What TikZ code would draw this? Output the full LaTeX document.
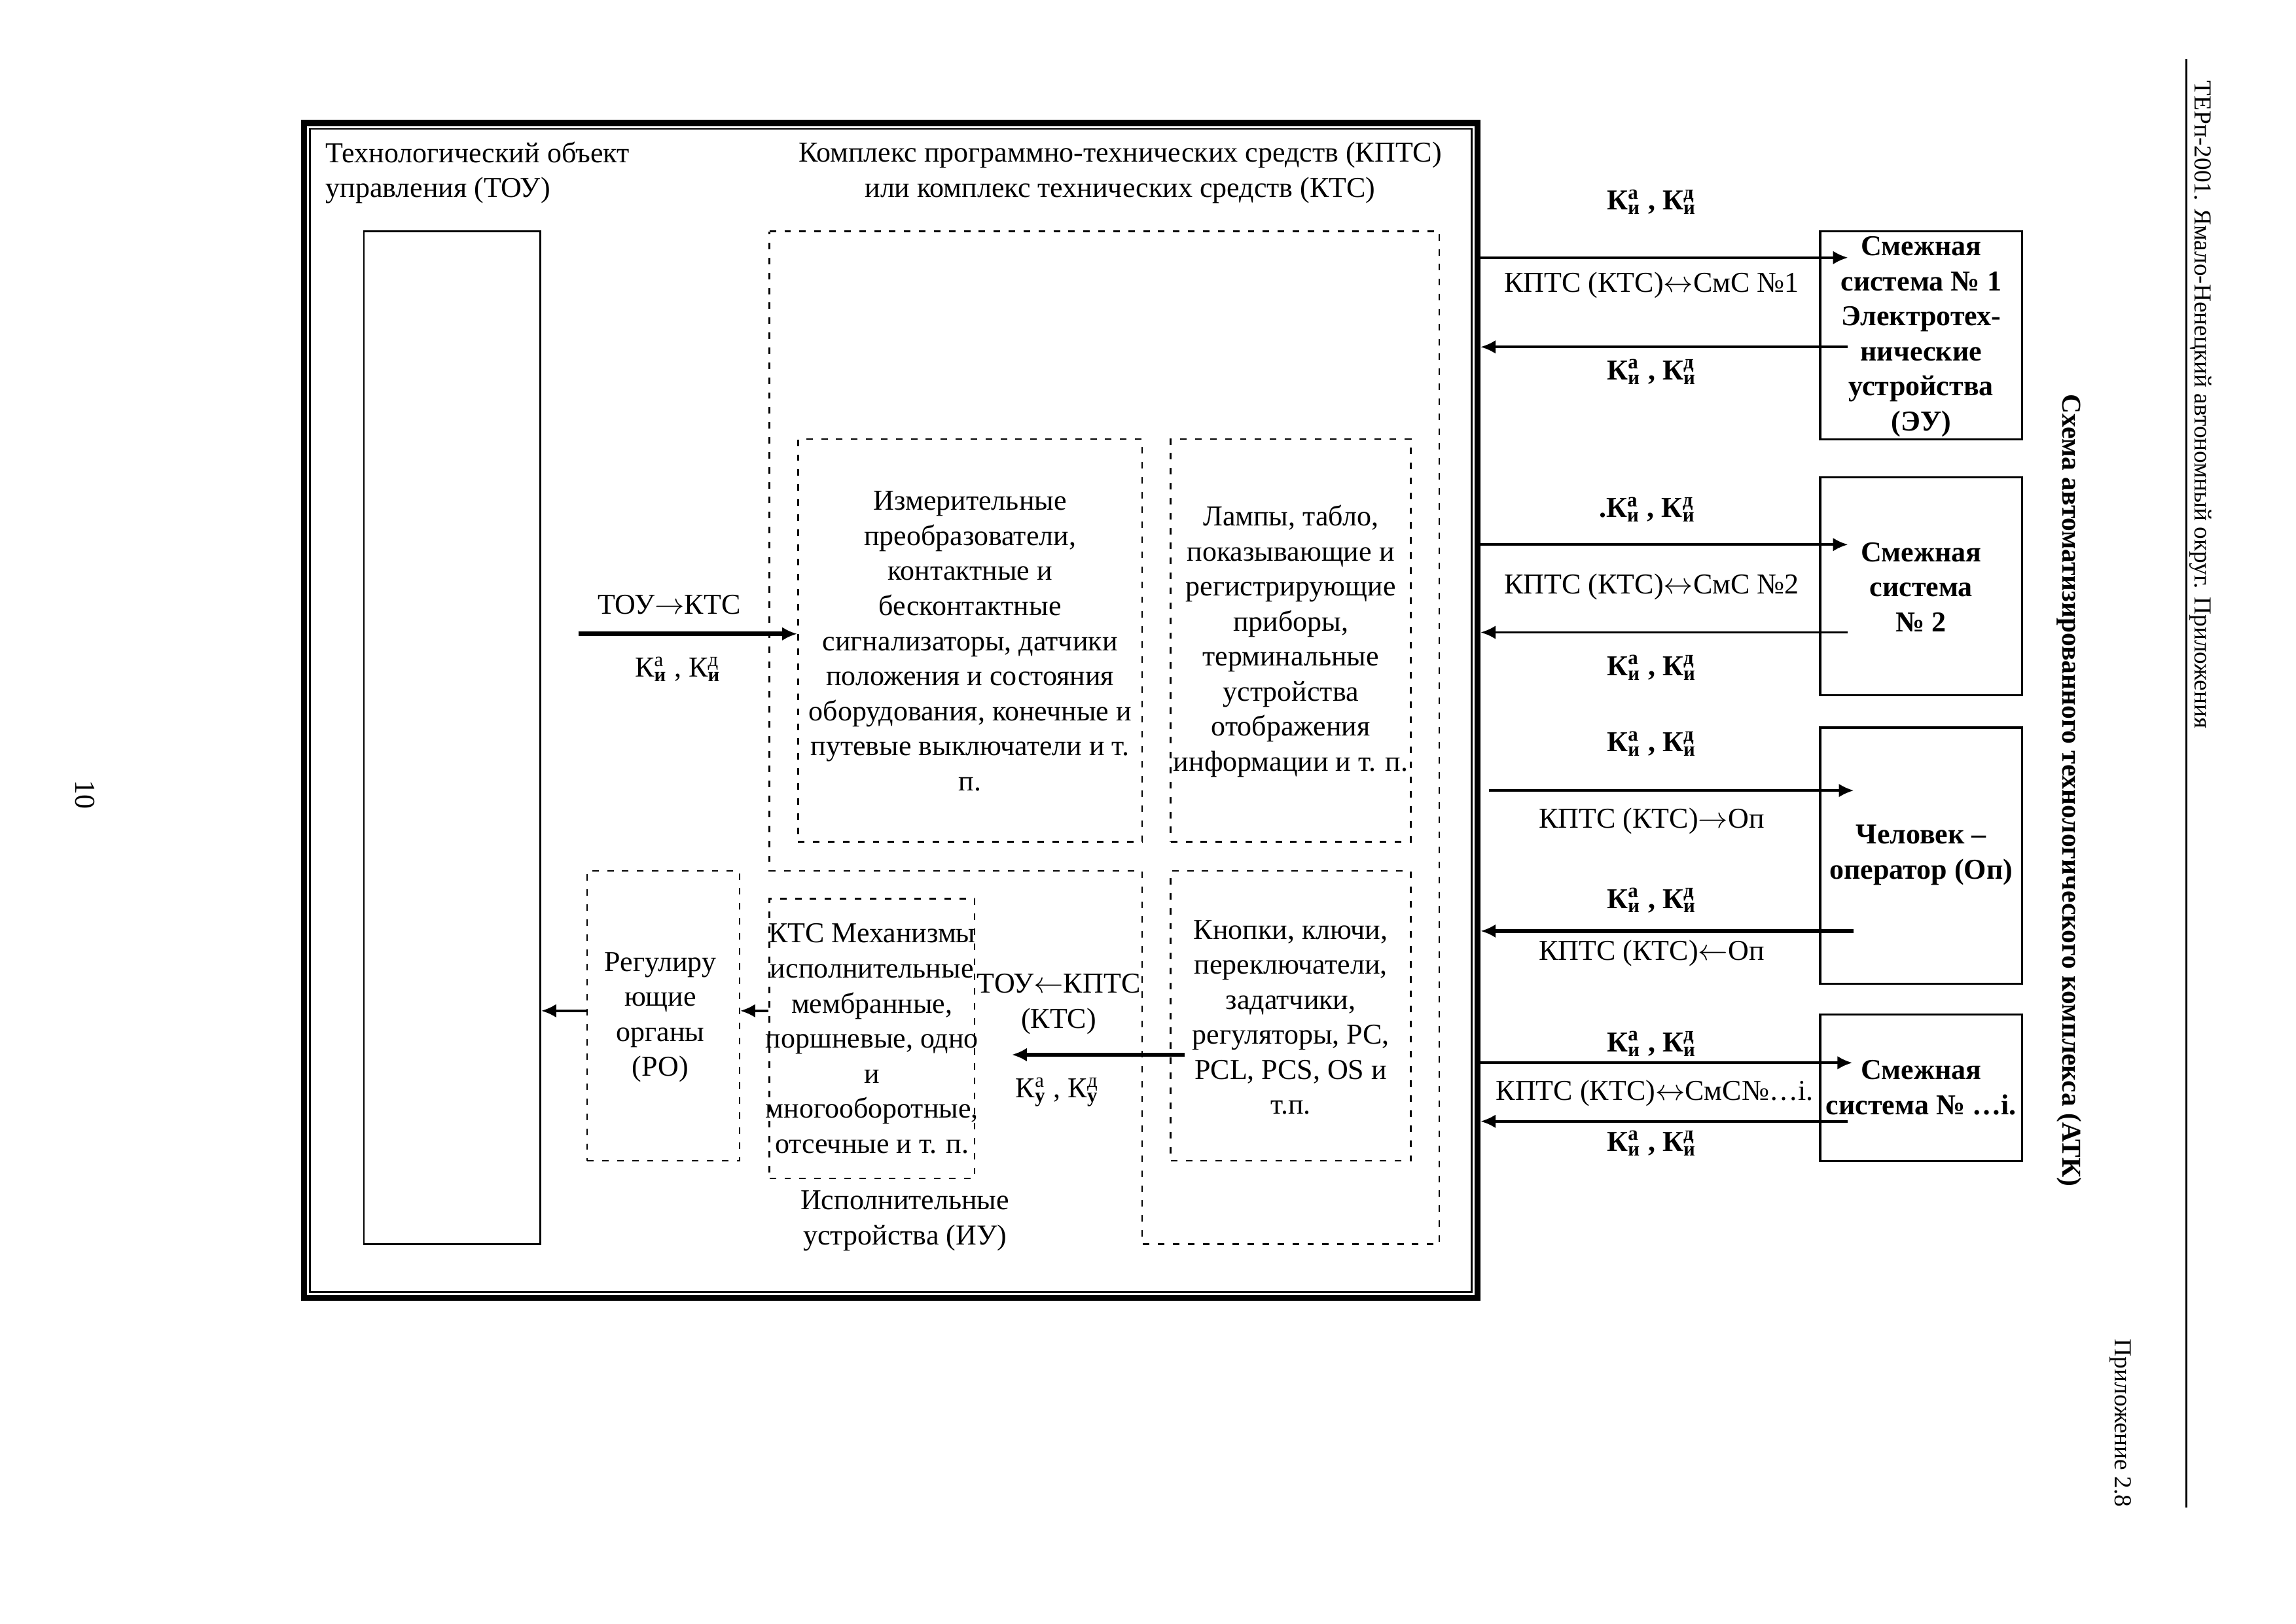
\documentclass[tikz,border=0pt]{standalone}
\usepackage{fontspec}
\setmainfont{Liberation Serif}
\usetikzlibrary{arrows.meta}
\newcommand{\grund}{\fontsize{10.6}{12.9}\selectfont}
\newcommand{\rand}{\fontsize{9}{11}\selectfont}
\newcommand{\Ksym}[2]{К\rlap{\textsuperscript{#1}}\textsubscript{\bfseries #2}}
\tikzset{
  Masz/.style 2 args={minimum width=#1*0.018941cm, minimum height=#2*0.018941cm}, % Groesse in Bildpunkten
  Kasten/.style={draw, line width=0.8pt, inner sep=0pt},
  Strich/.style={draw, line width=0.6pt, dash pattern=on 2.4pt off 3.1pt, inner sep=0pt}, % gestrichelt
  Pfeil/.style={line width=#1, -{Latex[length=5.5pt,width=5pt]}},
  Pfeil/.default=0.9pt,
  Beschr/.style={inner sep=0pt, align=center},
  KBeschr/.style={Beschr, font=\grund\bfseries}
}

\begin{document}
\begin{tikzpicture}[x=0.018941cm, y=-0.018941cm, font=\grund]
\useasboundingbox (0,0) rectangle (1568,1109);

% Rahmen
\node[Kasten, line width=2.2pt, Masz={801.5}{802.5}] (rahmen) at (608.35,485.25) {};
\node[Kasten, line width=0.65pt, Masz={793.5}{794.5}] (rahmeni) at (608.35,485.25) {};

% Ueberschriften
\node[Beschr, align=left, anchor=west] (toutitel) at (222,118) {Технологический объект\\управления (ТОУ)};
\node[Beschr] (kptstitel) at (765,118) {Комплекс программно-технических средств (КПТС)\\или комплекс технических средств (КТС)};

% Objekt
\node[Kasten, line width=0.7pt, Masz={120.5}{692}] (tou) at (308.75,504) {};

% Bereich KPTS
\draw[Strich] (525.5,158) -| (983,850) -- (780,850) |- (525.5,595) -- cycle;

\node[Strich, Masz={235}{275}] (mess) at (662.5,437.5) {};
\node[Beschr] (messT) at (662.5,438) {Измерительные\\преобразователи,\\контактные и\\бесконтактные\\сигнализаторы, датчики\\положения и состояния\\оборудования, конечные и\\путевые выключатели и т.\\п.};

\node[Strich, Masz={164}{275}] (lampen) at (881.5,437.5) {};
\node[Beschr] (lampenT) at (881.5,438) {Лампы, табло,\\показывающие и\\регистрирующие\\приборы,\\терминальные\\устройства\\отображения\\информации и т. п.};

\node[Strich, Masz={164}{198}] (tasten) at (881.5,694) {};
\node[Beschr] (tastenT) at (881.5,695) {Кнопки, ключи,\\переключатели,\\задатчики,\\регуляторы, PC,\\PCL, PCS, OS и\\т.п.};

\node[Strich, Masz={140}{191}] (stell) at (595.5,709.5) {};
\node[Beschr] (stellT) at (595.5,709.5) {КТС Механизмы\\исполнительные\\мембранные,\\поршневые, одно\\и\\многооборотные,\\отсечные и т. п.};

\node[Strich, Masz={104}{198}] (ro) at (453,694) {};
\node[Beschr] (roT) at (451,695) {Регулиру\\ющие\\органы\\(РО)};

\node[Beschr] (iu) at (618,834) {Исполнительные\\устройства (ИУ)};

% Pfeile innen
\coordinate (p1) at (395,433);
\draw[Pfeil=1.6pt] (p1) -- (mess.west |- p1);
\node[Beschr] (p1o) at (457,413) {ТОУ$\rightarrow$КТС};
\node[Beschr] (p1u) at (463,457) {\Ksym{а}{и} , \Ksym{д}{и}};

\coordinate (p2a) at (809,720.5);
\coordinate (p2b) at (691,720.5);
\draw[Pfeil=1.3pt] (p2a) -- (p2b);
\node[Beschr] (p2o) at (723,686) {ТОУ$\leftarrow$КПТС\\(КТС)};
\node[Beschr] (p2u) at (722,746) {\Ksym{а}{у} , \Ksym{д}{у}};

\coordinate (p3) at (0,690.5);
\draw[Pfeil] (stell.west |- p3) -- (ro.east |- p3);
\draw[Pfeil] (ro.west |- p3) -- (tou.east |- p3);

% Smezhnye sistemy
\node[Kasten, Masz={138}{142}] (cms1) at (1312,229) {};
\node[KBeschr] (cms1T) at (1312,230) {Смежная\\система № 1\\Электротех-\\нические\\устройства\\(ЭУ)};
\node[Kasten, Masz={138}{149}] (cms2) at (1312,400.5) {};
\node[KBeschr] (cms2T) at (1312,401) {Смежная\\система\\№ 2};
\node[Kasten, Masz={138}{175}] (op) at (1312,584.5) {};
\node[KBeschr] (opT) at (1312,584) {Человек –\\оператор (Оп)};
\node[Kasten, Masz={138}{100}] (cmsi) at (1312,743) {};
\node[KBeschr] (cmsiT) at (1312,743) {Смежная\\система № …i.};

% Pfeile aussen
\coordinate (r1a) at (1262,176);
\coordinate (r1b) at (1262,237);
\draw[Pfeil] (rahmen.east |- r1a) -- (r1a);
\draw[Pfeil] (r1b) -- (rahmen.east |- r1b);
\node[KBeschr] (r1k) at (1128,138) {\Ksym{а}{и} , \Ksym{д}{и}};
\node[Beschr] (r1m) at (1128,195) {КПТС (КТС)$\leftrightarrow$СмС №1};
\node[KBeschr] (r1l) at (1128,254) {\Ksym{а}{и} , \Ksym{д}{и}};

\coordinate (r2a) at (1262,372);
\coordinate (r2b) at (1262,432);
\draw[Pfeil] (rahmen.east |- r2a) -- (r2a);
\draw[Pfeil] (r2b) -- (rahmen.east |- r2b);
\node[KBeschr] (r2k) at (1125,348) {.\Ksym{а}{и} , \Ksym{д}{и}};
\node[Beschr] (r2m) at (1128,401) {КПТС (КТС)$\leftrightarrow$СмС №2};
\node[KBeschr] (r2l) at (1128,456) {\Ksym{а}{и} , \Ksym{д}{и}};

\coordinate (r3s) at (1017,540);
\coordinate (r3a) at (1266,540);
\coordinate (r3b) at (1266,636);
\draw[Pfeil] (r3s) -- (r3a);
\draw[Pfeil=1.5pt] (r3b) -- (rahmen.east |- r3b);
\node[KBeschr] (r3k) at (1128,508) {\Ksym{а}{и} , \Ksym{д}{и}};
\node[Beschr] (r3m) at (1128,561) {КПТС (КТС)$\rightarrow$Оп};
\node[KBeschr] (r3l) at (1128,615) {\Ksym{а}{и} , \Ksym{д}{и}};
\node[Beschr] (r3n) at (1128,651) {КПТС (КТС)$\leftarrow$Оп};

\coordinate (r4a) at (1265,726);
\coordinate (r4b) at (1262,766);
\draw[Pfeil] (rahmen.east |- r4a) -- (r4a);
\draw[Pfeil] (r4b) -- (rahmen.east |- r4b);
\node[KBeschr] (r4k) at (1128,713) {\Ksym{а}{и} , \Ksym{д}{и}};
\node[Beschr] (r4m) at (1130,747) {КПТС (КТС)$\leftrightarrow$СмС№…i.};
\node[KBeschr] (r4l) at (1128,781) {\Ksym{а}{и} , \Ksym{д}{и}};

% Rand
\node[Beschr, font=\fontsize{10}{12}\selectfont\bfseries, rotate=-90] (schema) at (1413,540) {Схема автоматизированного технологического комплекса (АТК)};
\node[Beschr, font=\rand, rotate=-90, anchor=west] (kopf) at (1503,55) {ТЕРп-2001. Ямало-Ненецкий автономный округ. Приложения};
\coordinate (lo) at (1493,40);
\coordinate (lu) at (1493,1030);
\draw[line width=0.8pt] (lo) -- (lu);
\node[Beschr, font=\rand, rotate=-90, anchor=east] (anh) at (1448,1030) {Приложение 2.8};
\node[Beschr, rotate=-90] (seite) at (58,543) {10};

\end{tikzpicture}
\end{document}
